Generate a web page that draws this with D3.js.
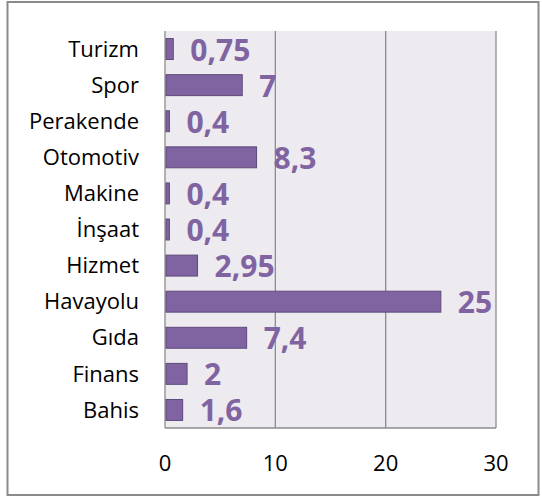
<!DOCTYPE html>
<html>
<head>
<meta charset="utf-8">
<script src="https://cdn.jsdelivr.net/npm/d3@7"></script>
<style>
  body { margin: 0; background: #fff; }
  svg text { font-family: "Open Sans", sans-serif; }
</style>
</head>
<body>
<div id="chart"></div>
<script>
// sector shares, top to bottom as drawn
const categories = ["Turizm", "Spor", "Perakende", "Otomotiv", "Makine", "İnşaat", "Hizmet", "Havayolu", "Gıda", "Finans", "Bahis"];
const values = [0.75, 7, 0.4, 8.3, 0.4, 0.4, 2.95, 25, 7.4, 2, 1.6];
const valueLabels = ["0,75", "7", "0,4", "8,3", "0,4", "0,4", "2,95", "25", "7,4", "2", "1,6"];
const xTicks = [0, 10, 20, 30];

const width = 542;
const height = 497;
const plot = {left: 165, right: 496, top: 31, bottom: 428};

const svg = d3.select("#chart")
  .append("svg")
  .attr("width", width)
  .attr("height", height);

// outer frame
svg.append("rect")
  .attr("x", 7.5)
  .attr("y", 2)
  .attr("width", 531)
  .attr("height", 493)
  .attr("fill", "#fff")
  .attr("stroke", "#8a8a8a")
  .attr("stroke-width", 2);

const xScale = d3.scaleLinear()
  .domain([0, 30])
  .range([plot.left, plot.right]);

const yScale = d3.scaleBand()
  .domain(categories)
  .range([plot.top, plot.bottom])
  .paddingInner(0.42)
  .paddingOuter(0.21);

// plot background
svg.append("rect")
  .attr("x", plot.left)
  .attr("y", plot.top)
  .attr("width", plot.right - plot.left)
  .attr("height", plot.bottom - plot.top)
  .attr("fill", "#edeaf0");

// gridlines
svg.selectAll(".grid")
  .data(xTicks)
  .enter().append("line")
  .attr("class", "grid")
  .attr("x1", d => xScale(d))
  .attr("x2", d => xScale(d))
  .attr("y1", plot.top)
  .attr("y2", plot.bottom)
  .attr("stroke", "#8c8c8c")
  .attr("stroke-width", 1.3);

svg.append("line")
  .attr("x1", plot.left)
  .attr("x2", plot.right)
  .attr("y1", plot.bottom)
  .attr("y2", plot.bottom)
  .attr("stroke", "#8c8c8c")
  .attr("stroke-width", 1.3);

// bars
svg.selectAll(".bar")
  .data(categories)
  .enter().append("rect")
  .attr("class", "bar")
  .attr("x", xScale(0) + 1)
  .attr("y", d => yScale(d))
  .attr("width", (d, i) => xScale(values[i]) - xScale(0) - 1)
  .attr("height", yScale.bandwidth())
  .attr("fill", "#8064a2")
  .attr("stroke", "#5e4a7a")
  .attr("stroke-width", 1);

// value labels
svg.selectAll(".val")
  .data(categories)
  .enter().append("text")
  .attr("class", "val")
  .attr("x", (d, i) => xScale(values[i]) + 17)
  .attr("y", d => yScale(d) + yScale.bandwidth() / 2 + 1)
  .attr("dy", "0.35em")
  .attr("fill", "#8064a2")
  .style("font-size", "30px")
  .style("font-weight", "bold")
  .text((d, i) => valueLabels[i]);

// category labels
svg.selectAll(".cat")
  .data(categories)
  .enter().append("text")
  .attr("class", "cat")
  .attr("x", 139)
  .attr("y", d => yScale(d) + yScale.bandwidth() / 2)
  .attr("dy", "0.35em")
  .attr("text-anchor", "end")
  .attr("fill", "#000")
  .style("font-size", "22px")
  .text(d => d);

// x tick labels
svg.selectAll(".tick-label")
  .data(xTicks)
  .enter().append("text")
  .attr("class", "tick-label")
  .attr("x", d => xScale(d))
  .attr("y", 463)
  .attr("dy", "0.35em")
  .attr("text-anchor", "middle")
  .attr("fill", "#000")
  .style("font-size", "22px")
  .text(d => d);
</script>
</body>
</html>
